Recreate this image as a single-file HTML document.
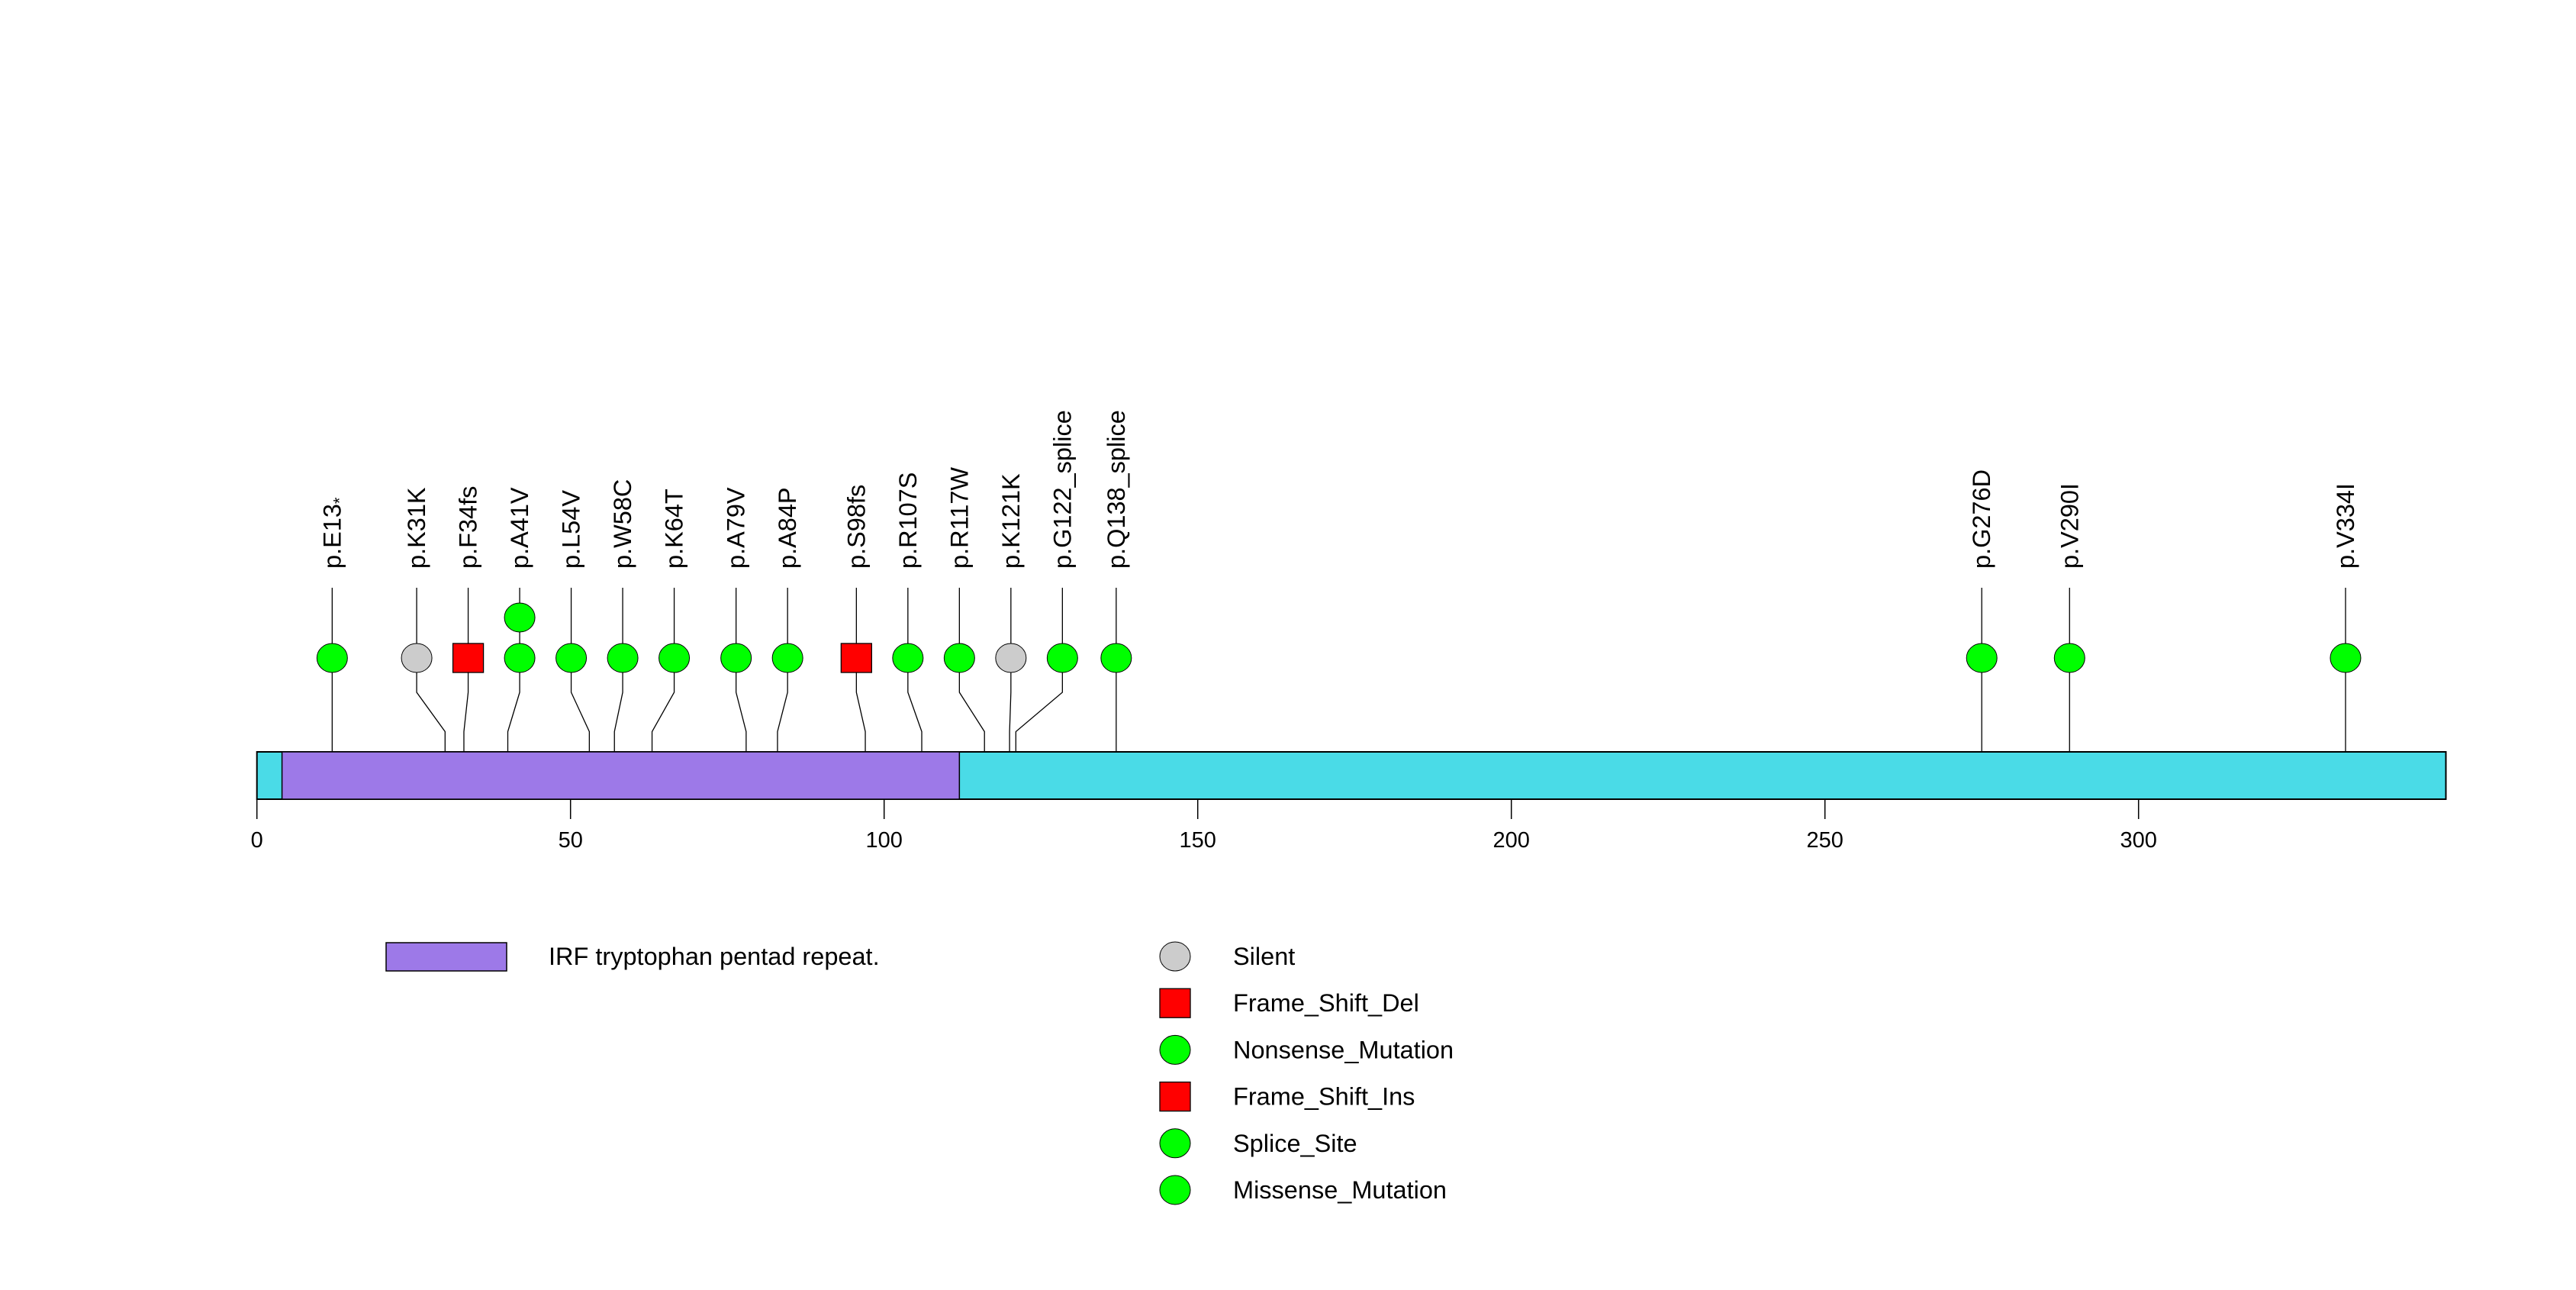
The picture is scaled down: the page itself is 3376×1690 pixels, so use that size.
<!DOCTYPE html>
<html><head><meta charset="utf-8"><style>html,body{margin:0;padding:0;background:#fff}svg{display:block}text{font-family:"Liberation Sans",sans-serif;fill:#000}</style></head>
<body>
<svg id="chart" width="3376" height="1690" viewBox="0 0 3376 1690" xmlns="http://www.w3.org/2000/svg">
<g id="labels"></g>
<g id="stems"></g>
<g id="protein"></g>
<g id="marks"></g>
<g id="axis"></g>
<g id="legend"></g>
</svg>
<script>
const proteinLength = 349;
const domainStart = 4;
const domainEnd = 112;
const domainName = "IRF tryptophan pentad repeat.";
const mutLabels = ["p.E13","p.K31K","p.F34fs","p.A41V","p.L54V","p.W58C","p.K64T","p.A79V","p.A84P","p.S98fs","p.R107S","p.R117W","p.K121K","p.G122_splice","p.Q138_splice","p.G276D","p.V290I","p.V334I"];
const mutPositions = [12,30,33,40,53,57,63,78,83,97,106,116,120,121,137,275,289,333];
const mutCounts = [1,1,1,2,1,1,1,1,1,1,1,1,1,1,1,1,1,1];
const mutTypes = ["green","grey","red","green","green","green","green","green","green","red","green","green","grey","green","green","green","green","green"];
const tickValues = [0,50,100,150,200,250,300];
const legendLabels = ["Silent","Frame_Shift_Del","Nonsense_Mutation","Frame_Shift_Ins","Splice_Site","Missense_Mutation"];
const legendTypes = ["grey","red","green","red","green","green"];

const NS="http://www.w3.org/2000/svg";
const X0=336.7, PX=8.22;
const xScale=v=>X0+v*PX;
const barTop=985, barBot=1047, circY=862, stackDy=53, minGap=67.5;
const colors={green:"#00ff00",grey:"#cccccc",red:"#ff0000"};
function mk(tag,attrs,parent){const e=document.createElementNS(NS,tag);for(const k in attrs)e.setAttribute(k,attrs[k]);parent.appendChild(e);return e;}
const G=id=>document.getElementById(id);

const real=mutPositions.map(xScale);
let groups=real.map((x,i)=>({idx:[i],sum:x}));
let changed=true;
while(changed){changed=false;
 for(let i=0;i<groups.length-1;i++){
  const a=groups[i],b=groups[i+1];
  const ca=a.sum/a.idx.length,cb=b.sum/b.idx.length;
  const aEnd=ca+(a.idx.length-1)*minGap/2, bStart=cb-(b.idx.length-1)*minGap/2;
  if(bStart-aEnd<minGap){groups.splice(i,2,{idx:a.idx.concat(b.idx),sum:a.sum+b.sum});changed=true;break;}
 }}
const disp=[];
groups.forEach(g=>{const c=g.sum/g.idx.length;const n=g.idx.length;g.idx.forEach((id,k)=>disp[id]=c+(k-(n-1)/2)*minGap);});

const pb=mk("rect",{x:xScale(0),y:barTop,width:xScale(proteinLength)-xScale(0),height:barBot-barTop,fill:"#4adbe7",stroke:"#000","stroke-width":2},G("protein"));


const dm=mk("rect",{x:xScale(domainStart),y:barTop,width:xScale(domainEnd)-xScale(domainStart),height:barBot-barTop,fill:"#9d79e8",stroke:"#000","stroke-width":1.5},G("protein"));



mutLabels.forEach((lab,i)=>{
 const dx=disp[i], rx=real[i];
 const st=mk("polyline",{points:`${dx},770 ${dx},907 ${rx},958.5 ${rx},${barBot}`,fill:"none",stroke:"#000","stroke-width":1.3},G("stems"));
 
 
 const t=mk("text",{x:0,y:0,"font-size":32.5,transform:`translate(${dx+11},745) rotate(-90)`},G("labels"));
 t.textContent=lab;
 if(i===0){const s=mk("tspan",{"font-size":22,dy:6},t);s.textContent="*";}
 
 
 for(let c=0;c<mutCounts[i];c++){
  const cy=circY-c*stackDy;let m;
  if(mutTypes[i]==="red") m=mk("rect",{x:dx-20,y:cy-19,width:40,height:38,fill:colors.red,stroke:"#000","stroke-width":1.3},G("marks"));
  else m=mk("ellipse",{cx:dx,cy:cy,rx:20,ry:19,fill:colors[mutTypes[i]],stroke:"#000","stroke-width":1},G("marks"));
  
  
 }
});

tickValues.forEach(v=>{
 const x=xScale(v);
 const tl=mk("line",{x1:x,y1:barBot,x2:x,y2:1073,stroke:"#000","stroke-width":1.5},G("axis"));
 
 
 const t=mk("text",{x:x,y:1110,"font-size":29,"text-anchor":"middle"},G("axis"));
 t.textContent=v;
 
 
});

const lr=mk("rect",{x:506,y:1235,width:158,height:37,fill:"#9d79e8",stroke:"#000","stroke-width":1.5},G("legend"));


const lt=mk("text",{x:719,y:1264,"font-size":32.5},G("legend"));
lt.textContent=domainName;


legendLabels.forEach((lab,i)=>{
 const cy=1253+i*61.2;let m;
 if(legendTypes[i]==="red") m=mk("rect",{x:1520,y:cy-19,width:40,height:38,fill:colors.red,stroke:"#000","stroke-width":1.3},G("legend"));
 else m=mk("ellipse",{cx:1540,cy:cy,rx:20,ry:19,fill:colors[legendTypes[i]],stroke:"#000","stroke-width":1},G("legend"));
 
 
 const t=mk("text",{x:1616,y:cy+11,"font-size":32.5},G("legend"));
 t.textContent=lab;
 
 
});
</script>
</body></html>
